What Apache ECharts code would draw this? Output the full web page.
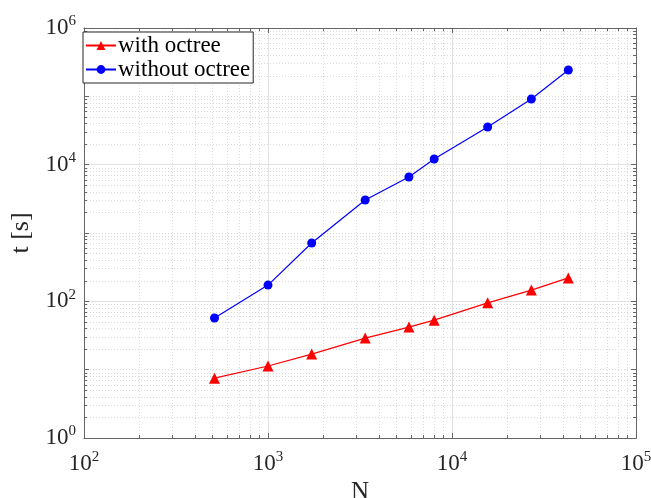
<!DOCTYPE html>
<html>
<head>
<meta charset="utf-8">
<script src="https://cdn.jsdelivr.net/npm/echarts@6/dist/echarts.min.js"></script>
<style>
  html, body { margin: 0; padding: 0; background: #fff; }
  #chart { width: 651px; height: 498px; }
</style>
</head>
<body>
<div id="chart"></div>
<script>
// 問題サイズ N と計算時間 t (両対数)
const nValues = [512, 1000, 1728, 3375, 5832, 8000, 15625, 27000, 42875];
const withOctree = [7.5, 11.3, 16.9, 29, 42, 53, 95, 146, 220];
const withoutOctree = [57, 173, 714, 3040, 6600, 12100, 35600, 91500, 243000];
const seriesNames = ['with octree', 'without octree'];

const FONT = 'Liberation Serif';
const TXT = '#262626';
const chart = echarts.init(document.getElementById('chart'));

// 10^k 形式のラベル（step 毎に表示）
function powLabel(step) {
  return function (v) {
    const e = Math.round(Math.log10(v));
    if (e % step !== 0) return '';
    return '{b|10}{s|' + e + '}';
  };
}
const richLabel = {
  b: { fontFamily: FONT, fontSize: 23, color: TXT },
  s: { fontFamily: FONT, fontSize: 15, color: TXT, padding: [0, 0, 13, 0] }
};

const dotted = { color: '#dadada', type: [1, 2], width: 1 };
const solid = { color: '#e2e2e2', width: 1 };
const axisLine = { show: true, lineStyle: { color: '#666', width: 1 } };
const tick = { show: true, inside: true, length: 5, lineStyle: { color: '#666' } };
const minorTick = { show: true, splitNumber: 9, length: 3, lineStyle: { color: '#666' } };

const option = {
  backgroundColor: '#fff',
  animation: false,
  grid: { left: 84, right: 15, top: 28, bottom: 60, outerBoundsMode: 'none' },
  legend: {
    data: seriesNames,
    orient: 'vertical',
    left: 83, top: 32,
    itemWidth: 30, itemHeight: 11, itemGap: 1,
    padding: [2, 3, 2, 2],
    borderColor: TXT, borderWidth: 1,
    backgroundColor: '#fff',
    textStyle: { fontFamily: FONT, fontSize: 23, color: '#000', padding: [0, 0, 0, -3] }
  },
  xAxis: [
    {
      type: 'log', logBase: 10, min: 100, max: 100000, position: 'bottom',
      axisLine: axisLine, axisTick: tick, minorTick: minorTick,
      splitLine: { show: true, lineStyle: solid },
      minorSplitLine: { show: true, lineStyle: dotted },
      axisLabel: { formatter: powLabel(1), rich: richLabel, margin: 12 },
      name: 'N', nameLocation: 'middle', nameGap: 35,
      nameTextStyle: { fontFamily: FONT, fontSize: 25, color: TXT }
    },
    {
      type: 'log', logBase: 10, min: 100, max: 100000, position: 'top',
      axisLine: axisLine, axisTick: tick, minorTick: minorTick,
      splitLine: { show: false }, axisLabel: { show: false }
    }
  ],
  yAxis: [
    {
      // 1桁毎の目盛（点線グリッド・小目盛・ラベル）
      type: 'log', logBase: 10, min: 1, max: 1000000, interval: 1, position: 'left',
      axisLine: axisLine, axisTick: tick, minorTick: minorTick,
      splitLine: { show: true, lineStyle: dotted },
      minorSplitLine: { show: true, lineStyle: dotted },
      axisLabel: { formatter: powLabel(2), rich: richLabel, margin: 8 },
      name: 't [s]', nameLocation: 'middle', nameGap: 40,
      nameTextStyle: { fontFamily: FONT, fontSize: 26, color: TXT }
    },
    {
      // 2桁毎の実線グリッド
      type: 'log', logBase: 10, min: 1, max: 1000000, interval: 2, position: 'right',
      axisLine: axisLine, axisTick: { show: false },
      splitLine: { show: true, lineStyle: solid }, axisLabel: { show: false }
    },
    {
      // 右側の目盛
      type: 'log', logBase: 10, min: 1, max: 1000000, interval: 1, position: 'right',
      axisLine: axisLine, axisTick: tick, minorTick: minorTick,
      splitLine: { show: false }, axisLabel: { show: false }
    }
  ],
  series: [
    {
      name: seriesNames[0], type: 'line',
      data: nValues.map((n, i) => [n, withOctree[i]]),
      symbol: 'triangle', symbolSize: 11,
      lineStyle: { color: '#ff0000', width: 1.2 },
      itemStyle: { color: '#ff0000' }
    },
    {
      name: seriesNames[1], type: 'line',
      data: nValues.map((n, i) => [n, withoutOctree[i]]),
      symbol: 'circle', symbolSize: 9,
      lineStyle: { color: '#0000ff', width: 1.2 },
      itemStyle: { color: '#0000ff' }
    }
  ]
};

chart.setOption(option);
</script>
</body>
</html>
